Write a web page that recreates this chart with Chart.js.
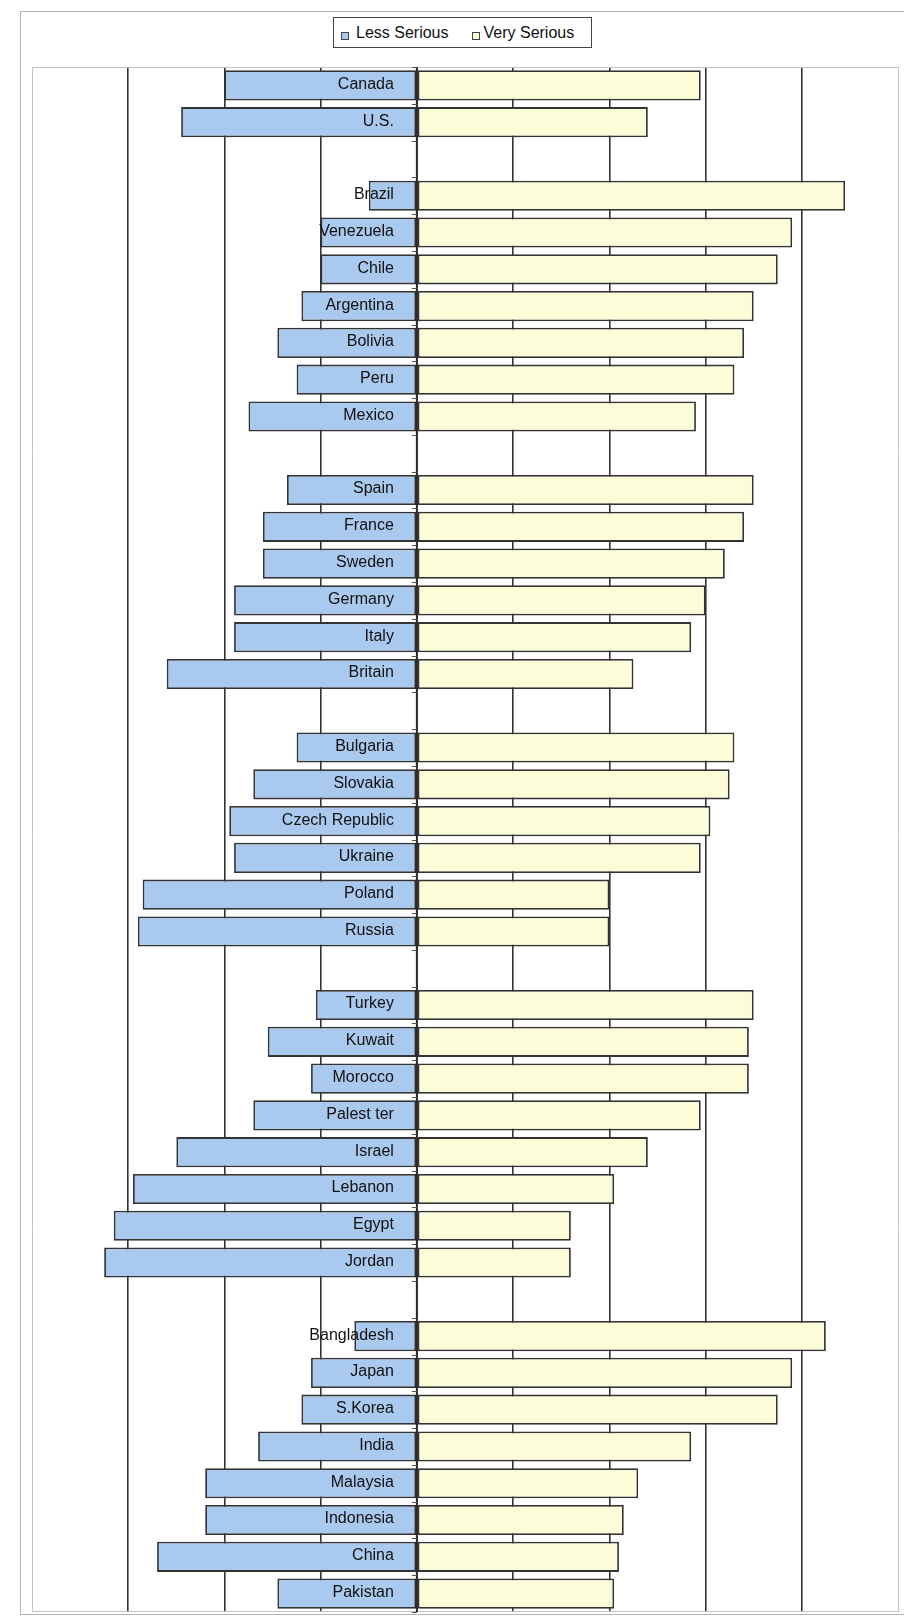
<!DOCTYPE html>
<html>
<head>
<meta charset="utf-8">
<title>Less Serious / Very Serious</title>
<script src="https://cdn.jsdelivr.net/npm/chart.js@4.4.1/dist/chart.umd.min.js"></script>
<style>
  html, body { margin: 0; padding: 0; background: #fff; }
  body { width: 904px; height: 1622px; position: relative; overflow: hidden; font-family: 'Liberation Sans', Arial, sans-serif; }
  #frame { position: absolute; left: 20px; top: 11px; width: 892px; height: 1604px; border: 1px solid #b4b4b4; box-sizing: border-box; }
  #legend { position: absolute; left: 333px; top: 17px; width: 259px; height: 31px; border: 1px solid #444; box-sizing: border-box;
            display: flex; align-items: center; font-size: 16px; color: #111; background: #fff; }
  #legend .item { display: flex; align-items: center; }
  #legend .item i { display: inline-block; width: 6px; height: 6px; border: 1px solid #444; margin-top: 6px; }
  #wrap { position: absolute; left: 0; top: 0; width: 904px; height: 1622px; }
</style>
</head>
<body>
<div id="frame"></div>
<div id="wrap"><canvas id="chart"></canvas></div>
<div id="legend">
  <span class="item" style="margin-left:7px"><i id="m1"></i><span style="margin-left:7px">Less Serious</span></span>
  <span class="item" style="margin-left:23px"><i id="m2"></i><span style="margin-left:4px">Very Serious</span></span>
</div>
<script>
// country rows, '' marks the blank spacer row between regions
const countries = [
  'Canada', 'U.S.', '',
  'Brazil', 'Venezuela', 'Chile', 'Argentina', 'Bolivia', 'Peru', 'Mexico', '',
  'Spain', 'France', 'Sweden', 'Germany', 'Italy', 'Britain', '',
  'Bulgaria', 'Slovakia', 'Czech Republic', 'Ukraine', 'Poland', 'Russia', '',
  'Turkey', 'Kuwait', 'Morocco', 'Palest ter', 'Israel', 'Lebanon', 'Egypt', 'Jordan', '',
  'Bangladesh', 'Japan', 'S.Korea', 'India', 'Malaysia', 'Indonesia', 'China', 'Pakistan'
];

// percent answering each way
const lessSerious = [
  40, 49, null,
  10, 20, 20, 24, 29, 25, 35, null,
  27, 32, 32, 38, 38, 52, null,
  25, 34, 39, 38, 57, 58, null,
  21, 31, 22, 34, 50, 59, 63, 65, null,
  13, 22, 24, 33, 44, 44, 54, 29
];
const verySerious = [
  59, 48, null,
  89, 78, 75, 70, 68, 66, 58, null,
  70, 68, 64, 60, 57, 45, null,
  66, 65, 61, 59, 40, 40, null,
  70, 69, 69, 59, 48, 41, 32, 32, null,
  85, 78, 75, 57, 46, 43, 42, 41
];

const axisMin = -80;
const axisMax = 100;
const axisStep = 20;

const blue = '#a9c9ee';
const yellow = '#fcfcd8';
const edge = '#333';

document.getElementById('m1').style.background = blue;
document.getElementById('m2').style.background = yellow;

// frame, centre axis and the country names drawn inside the chart area
const overlay = {
    id: 'overlay',
    beforeDatasetsDraw(chart) {
        const { ctx, chartArea: a } = chart;
        ctx.save();
        ctx.strokeStyle = '#c4c4c4';
        ctx.lineWidth = 1;
        ctx.beginPath();
        ctx.moveTo(a.left, a.top + 0.5);
        ctx.lineTo(a.right, a.top + 0.5);
        ctx.moveTo(a.left, a.bottom - 0.5);
        ctx.lineTo(a.right, a.bottom - 0.5);
        ctx.stroke();
        ctx.restore();
    },
    afterDatasetsDraw(chart) {
        const { ctx, chartArea: a, scales: { x, y } } = chart;
        const x0 = x.getPixelForValue(0);
        ctx.save();
        ctx.strokeStyle = '#2a2a2a';
        ctx.lineWidth = 2;
        ctx.beginPath();
        ctx.moveTo(x0, a.top);
        ctx.lineTo(x0, a.bottom);
        ctx.stroke();

        // small tick marks at the row boundaries
        const half = (y.getPixelForValue(1) - y.getPixelForValue(0)) / 2;
        ctx.lineWidth = 1;
        ctx.strokeStyle = '#555';
        ctx.beginPath();
        for (let i = 0; i <= countries.length; i++) {
            const py = Math.round(y.getPixelForValue(i) - half) + 0.5;
            ctx.moveTo(x0 - 5, py);
            ctx.lineTo(x0, py);
        }
        ctx.stroke();

        ctx.fillStyle = '#111';
        ctx.font = "16px 'Liberation Sans', Arial, sans-serif";
        ctx.textAlign = 'right';
        ctx.textBaseline = 'middle';
        countries.forEach((name, i) => {
            if (!name) return;
            ctx.fillText(name, x0 - 23, y.getPixelForValue(i) - 1);
        });
        ctx.restore();
    }
};

const ctx = document.getElementById('chart').getContext('2d');
new Chart(ctx, {
    type: 'bar',
    data: {
        labels: countries,
        datasets: [{
            label: 'Less Serious',
            data: lessSerious.map(v => v === null ? null : -v),
            backgroundColor: blue,
            borderColor: edge,
            borderWidth: 1.8,
            borderSkipped: false,
            barPercentage: 0.82,
            categoryPercentage: 1
        }, {
            label: 'Very Serious',
            data: verySerious,
            backgroundColor: yellow,
            borderColor: edge,
            borderWidth: 1.8,
            borderSkipped: false,
            barPercentage: 0.82,
            categoryPercentage: 1
        }]
    },
    options: {
        indexAxis: 'y',
        responsive: true,
        maintainAspectRatio: false,
        animation: false,
        layout: {
            padding: { left: 32, right: 6, top: 67, bottom: 10 }
        },
        plugins: {
            legend: { display: false },
            tooltip: { enabled: false }
        },
        scales: {
            x: {
                stacked: true,
                min: axisMin,
                max: axisMax,
                ticks: { display: false, stepSize: axisStep },
                border: { display: false },
                grid: {
                    drawTicks: false,
                    color: c => (c.tick && (c.tick.value === axisMin || c.tick.value === axisMax)) ? '#c4c4c4' : '#333',
                    lineWidth: c => (c.tick && (c.tick.value === axisMin || c.tick.value === axisMax)) ? 1 : 1.6
                }
            },
            y: {
                stacked: true,
                display: false
            }
        }
    },
    plugins: [overlay]
});
</script>
</body>
</html>
